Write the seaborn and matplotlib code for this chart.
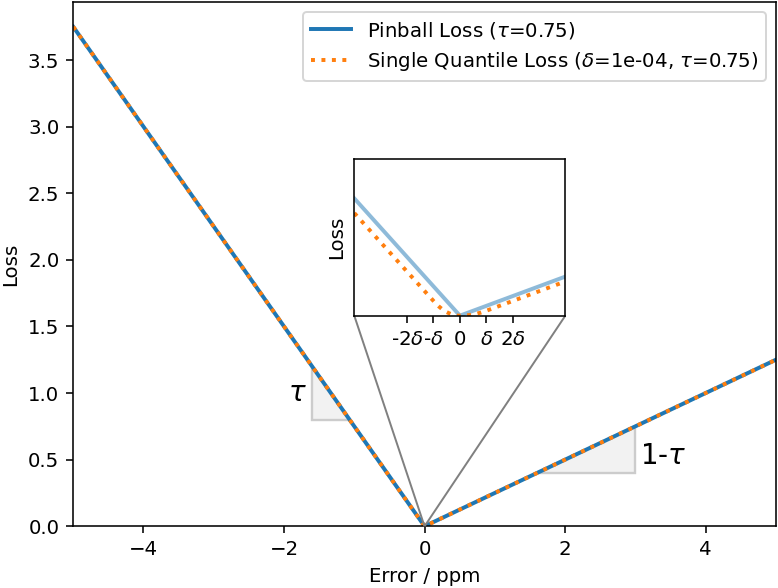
import numpy as np
import matplotlib
matplotlib.use("Agg")
import matplotlib.pyplot as plt
import seaborn as sns
from mpl_toolkits.axes_grid1.inset_locator import mark_inset

tau = 0.75
delta = 1e-4

# x range of the main plot and of the inset (in units of delta)
x_main = [-5, 5]
x_inset = [-4, 4]

inset_ticks = [-2, -1, 0, 1, 2]
inset_ticklabels = [r'-2$\delta$', r'-$\delta$', '0', r'$\delta$', r'2$\delta$']

# slope triangles
tri_left_x = [-1.6, -1.6, -0.8 / tau]
tri_left_y = [1.6 * tau, 0.8, 0.8]
tri_right_x = [1.6, 3.0, 3.0]
tri_right_y = [0.4, 0.4, 3.0 * (1 - tau)]


def pinball(e, tau):
    # negative errors weighted with tau, positive with 1-tau
    w = np.where(e < 0, tau, 1 - tau)
    return w * np.abs(e)


def single_quantile(e, delta, tau):
    # huberised pinball loss, quadratic inside +-delta
    w = np.where(e < 0, tau, 1 - tau)
    a = np.abs(e)
    return w * np.where(a <= delta, a ** 2 / (2 * delta), a - delta / 2)


e = np.linspace(x_main[0], x_main[1], 2001)
e_in = np.linspace(x_inset[0] * delta, x_inset[1] * delta, 2001)

dpi = 142
fig = plt.figure(figsize=(779 / dpi, 588 / dpi), dpi=dpi)
ax = fig.add_axes([0.094, 0.105, 0.902, 0.892])

sns.lineplot(x=e, y=pinball(e, tau), ax=ax, color='tab:blue', lw=2,
             label=r'Pinball Loss ($\tau$=0.75)')
sns.lineplot(x=e, y=single_quantile(e, delta, tau), ax=ax, color='tab:orange',
             lw=2, linestyle=':',
             label=r'Single Quantile Loss ($\delta$=1e-04, $\tau$=0.75)')

ax.fill(tri_left_x, tri_left_y, facecolor='0.95', edgecolor='0.8', lw=1.2, zorder=1)
ax.fill(tri_right_x, tri_right_y, facecolor='0.95', edgecolor='0.8', lw=1.2, zorder=1)
ax.text(-1.68, 1.0, r'$\tau$', fontsize=14, ha='right', va='center')
ax.text(3.06, 0.53, r'1-$\tau$', fontsize=14, ha='left', va='center')

ax.set_xlim(x_main)
ax.set_ylim(bottom=0)
ax.set_xlabel('Error / ppm')
ax.set_ylabel('Loss')
ax.legend(loc='upper right')

# inset around zero
axins = fig.add_axes([0.4548, 0.4631, 0.2709, 0.266])
sns.lineplot(x=e_in, y=pinball(e_in, tau), ax=axins, color='tab:blue', lw=2, alpha=0.5)
sns.lineplot(x=e_in, y=single_quantile(e_in, delta, tau), ax=axins,
             color='tab:orange', lw=2, linestyle=':')
axins.set_xlim(x_inset[0] * delta, x_inset[1] * delta)
axins.set_ylim(0, 4 * delta)
axins.set_xticks([t * delta for t in inset_ticks])
axins.set_xticklabels(inset_ticklabels)
axins.set_yticks([])
axins.set_ylabel('Loss')
axins.set_xlabel('')

mark_inset(ax, axins, loc1=3, loc2=4, fc='none', ec='0.5', lw=1.0)

fig.savefig('out.png', dpi=dpi)
